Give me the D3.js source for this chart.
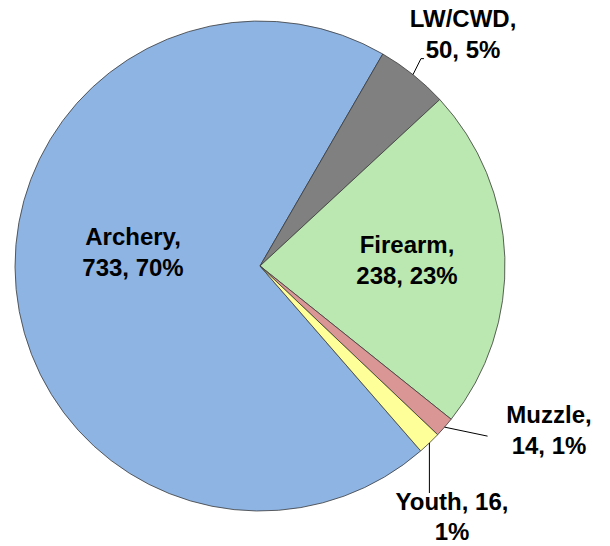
<!DOCTYPE html>
<html>
<head>
<meta charset="utf-8">
<script src="https://cdn.jsdelivr.net/npm/d3@7"></script>
<style>
  html, body { margin: 0; padding: 0; background: #ffffff; }
  svg { display: block; }
  text { font-family: "Liberation Sans", Arial, sans-serif; font-weight: bold; fill: #000; }
</style>
</head>
<body>
<svg id="chart" width="610" height="546"></svg>
<script>
// ---- data ----
const categories = ["Archery", "LW/CWD", "Firearm", "Muzzle", "Youth"];
const values = [733, 50, 238, 14, 16];
const percents = ["70%", "5%", "23%", "1%", "1%"];
const colors = ["#8EB4E3", "#808080", "#BBE8B0", "#D99694", "#FFFF99"];

// label text lines
const labelLines = [
  ["Archery,", "733, 70%"],
  ["LW/CWD,", "50, 5%"],
  ["Firearm,", "238, 23%"],
  ["Muzzle,", "14, 1%"],
  ["Youth, 16,", "1%"]
];

// ---- layout ----
const W = 610, H = 546;
const cx = 260, cy = 266, R = 245;
const startDeg = 139;
const fontSize = 24, lineH = 31;

// label placement relative to pie center (dx, dy of first baseline), plus leader path
const labelLayout = [
  { dx: -127, dy: -21, leader: null },
  { dx: 203, dy: -239, leader: [[0, 0], [8, -16], [11, -16]] },
  { dx: 147, dy: -13, leader: null },
  { dx: 289, dy: 157, leader: [[0, 0], [43, 9]] },
  { dx: 192, dy: 244, leader: [[0, 0], [0, 50]] }
];

const svg = d3.select("#chart");
const g = svg.append("g").attr("transform", `translate(${cx},${cy})`);

const data = categories.map((c, i) => ({ name: c, value: values[i], i }));
const start = startDeg * Math.PI / 180;
const pie = d3.pie().value(d => d.value).sort(null)
  .startAngle(start).endAngle(start + 2 * Math.PI);
const arcs = pie(data);
const arc = d3.arc().innerRadius(0).outerRadius(R);
const edgeArc = d3.arc().innerRadius(R).outerRadius(R);

g.selectAll("path.slice")
  .data(arcs)
  .enter().append("path")
  .attr("class", "slice")
  .attr("d", arc)
  .attr("fill", d => colors[d.data.i])
  .attr("stroke", "#3a3a3a")
  .attr("stroke-width", 0.8)
  .attr("stroke-linejoin", "round");

// leader lines
arcs.forEach(d => {
  const lay = labelLayout[d.data.i];
  if (!lay.leader) return;
  const [ex, ey] = edgeArc.centroid(d);
  const pts = lay.leader.map(p => [ex + p[0], ey + p[1]]);
  g.append("path")
    .attr("d", d3.line()(pts))
    .attr("fill", "none")
    .attr("stroke", "#000")
    .attr("stroke-width", 1);
});

// labels
arcs.forEach(d => {
  const lay = labelLayout[d.data.i];
  const t = g.append("text")
    .attr("text-anchor", "middle")
    .attr("font-size", fontSize);
  labelLines[d.data.i].forEach((line, k) => {
    t.append("tspan")
      .attr("x", lay.dx)
      .attr("y", lay.dy + k * (d.data.i === 4 ? 30 : lineH))
      .text(line);
  });
});
</script>
</body>
</html>
